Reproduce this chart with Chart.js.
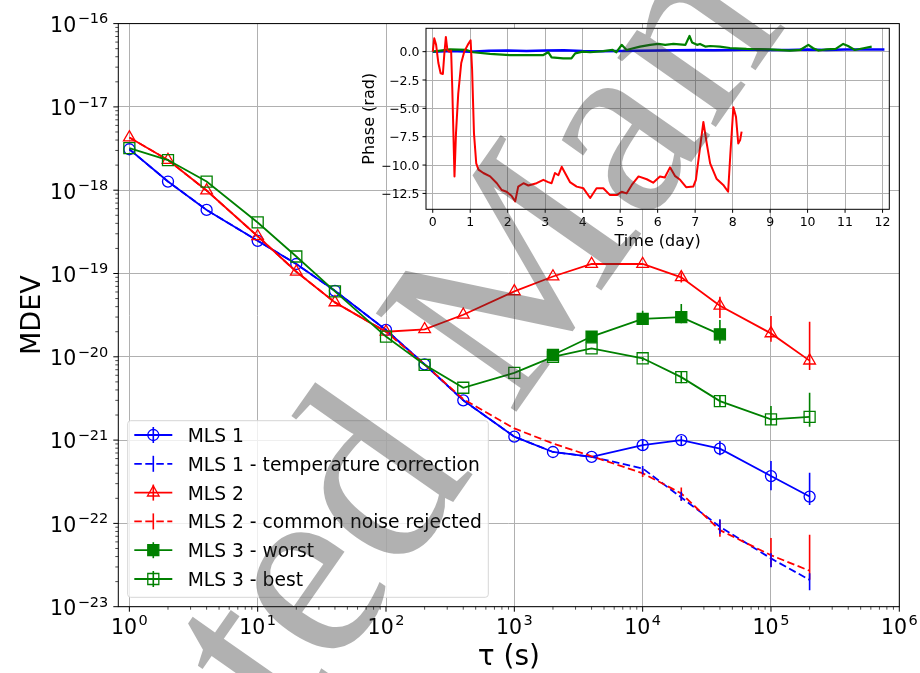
<!DOCTYPE html>
<html>
<head>
<meta charset="utf-8">
<script src="https://cdn.jsdelivr.net/npm/chart.js@4.4.1/dist/chart.umd.min.js"></script>
<style>
  body { margin: 0; background: #fff; }
  #wrap { position: relative; width: 920px; height: 673px; overflow: hidden; }
  #main { position: absolute; left: 0; top: 0; }
  #inset { position: absolute; left: 340px; top: 20px; }
  #mark { position: absolute; left: 0; top: 0; pointer-events: none; }
</style>
</head>
<body>
<div id="wrap">
  <canvas id="main" width="920" height="673"></canvas>
  <canvas id="inset" width="560" height="240"></canvas>
  <canvas id="mark" width="920" height="673"></canvas>
</div>
<script>
// Datos del gráfico principal (MDEV frente a tau)
const tau = [1, 2, 4, 10, 20, 40, 100, 200, 400, 1e3, 2e3, 4e3, 1e4, 2e4, 4e4, 1e5, 2e5];

const mls1 = [3.1e-18, 1.27e-18, 5.8e-19, 2.47e-19, 1.3e-19, 6.2e-20, 2.1e-20, 8.1e-21, 3.0e-21,
              1.1e-21, 7.2e-22, 6.3e-22, 8.7e-22, 1.0e-21, 7.9e-22, 3.7e-22, 2.1e-22];
const mls1Lo = [null, null, null, null, null, null, null, null, null, null, null, null,
                7.4e-22, 8.7e-22, 6.6e-22, 2.5e-22, 1.66e-22];
const mls1Hi = [null, null, null, null, null, null, null, null, null, null, null, null,
                1.03e-21, 1.12e-21, 9.75e-22, 5.6e-22, 4.06e-22];

const mls1Temp = [3.1e-18, 1.27e-18, 5.8e-19, 2.47e-19, 1.3e-19, 6.2e-20, 2.1e-20, 8.1e-21, 3.0e-21,
                  1.1e-21, 7.2e-22, 6.3e-22, 4.57e-22, 2.05e-22, 9.1e-23, 3.8e-23, 2.1e-23];
const mls1TempLo = [null, null, null, null, null, null, null, null, null, null, null, null,
                    3.9e-22, 1.87e-22, 7.5e-23, 2.97e-23, 1.58e-23];
const mls1TempHi = [null, null, null, null, null, null, null, null, null, null, null, null,
                    4.9e-22, 2.4e-22, 1.12e-22, 4.38e-23, 2.52e-23];

const mls2 = [4.3e-18, 2.3e-18, 9.9e-19, 2.8e-19, 1.05e-19, 4.5e-20, 2.0e-20, 2.14e-20, 3.2e-20,
              6.1e-20, 9.2e-20, 1.3e-19, 1.3e-19, 9.0e-20, 4.1e-20, 1.91e-20, 9.0e-21];
const mls2Lo = [null, null, null, null, null, null, null, null, null, null, null, null,
                null, 7.8e-20, 2.92e-20, 1.52e-20, 6.95e-21];
const mls2Hi = [null, null, null, null, null, null, null, null, null, null, null, null,
                null, 1.03e-19, 5.26e-20, 3.09e-20, 2.64e-20];

const mls2Common = [4.3e-18, 2.3e-18, 9.9e-19, 2.8e-19, 1.05e-19, 4.5e-20, 2.0e-20, 8.1e-21, 3.1e-21,
                    1.38e-21, 9.1e-22, 6.4e-22, 4.0e-22, 2.29e-22, 8.3e-23, 4.15e-23, 2.7e-23];
const mls2CommonLo = [null, null, null, null, null, null, null, null, null, null, null, null,
                      3.6e-22, 1.87e-22, 6.9e-23, 3.0e-23, 2.1e-23];
const mls2CommonHi = [null, null, null, null, null, null, null, null, null, null, null, null,
                      4.6e-22, 2.7e-22, 1.1e-22, 6.7e-23, 7.3e-23];

const mls3Worst = [null, null, null, null, null, null, null, null, null, null,
                   1.05e-20, 1.75e-20, 2.85e-20, 3.0e-20, 1.86e-20, null, null];
const mls3WorstLo = [null, null, null, null, null, null, null, null, null, null,
                     null, null, 2.41e-20, 2.52e-20, 1.43e-20, null, null];
const mls3WorstHi = [null, null, null, null, null, null, null, null, null, null,
                     null, null, 3.57e-20, 4.3e-20, 2.77e-20, null, null];

const mls3Best = [3.2e-18, 2.3e-18, 1.27e-18, 4.1e-19, 1.6e-19, 6.1e-20, 1.75e-20, 8.0e-21, 4.25e-21,
                  6.4e-21, 1.0e-20, 1.26e-20, 9.6e-21, 5.7e-21, 2.94e-21, 1.77e-21, 1.9e-21];
const mls3BestLo = [null, null, null, null, null, null, null, null, null, null, null, null,
                    8.9e-21, 4.8e-21, 2.52e-21, 1.52e-21, 1.45e-21];
const mls3BestHi = [null, null, null, null, null, null, null, null, null, null, null, null,
                    1.0e-20, 6.6e-21, 3.48e-21, 2.57e-21, 3.7e-21];

// Décadas de los ejes
const xDecades = [0, 1, 2, 3, 4, 5, 6];
const yDecades = [-23, -22, -21, -20, -19, -18, -17, -16];

// Datos del recuadro (fase frente a tiempo)
const redDay = [0, 0.04, 0.09, 0.15, 0.21, 0.27, 0.31, 0.35, 0.39, 0.44, 0.49, 0.52, 0.58, 0.62, 0.68,
                0.76, 0.84, 0.95, 1.01, 1.05, 1.1, 1.16, 1.22, 1.35, 1.53, 1.71, 1.84, 1.97, 2.1, 2.2,
                2.28, 2.42, 2.55, 2.77, 2.95, 3.08, 3.17, 3.26, 3.35, 3.44, 3.53, 3.66, 3.84, 4.02, 4.2,
                4.37, 4.55, 4.73, 4.91, 5.04, 5.17, 5.31, 5.49, 5.71, 5.88, 6.06, 6.19, 6.33, 6.46, 6.6,
                6.76, 6.95, 7.02, 7.11, 7.22, 7.31, 7.4, 7.57, 7.75, 7.88, 7.94, 8.02, 8.09, 8.15, 8.2, 8.24];
const redPhase = [0, 1.18, 0.6, -1.0, -1.9, -1.97, -0.15, 1.3, 0.15, 0, 0.1, -3.1, -11.0, -7.2, -3.7,
                  -1.0, 0, 0.7, 1.0, -1.6, -7.2, -9.85, -10.4, -10.7, -11.0, -11.6, -12.2, -12.35, -12.7, -13.2,
                  -11.9, -11.6, -11.8, -11.6, -11.3, -11.5, -11.6, -10.7, -10.9, -10.15, -10.7, -11.5, -11.9, -12.05, -12.9,
                  -12.05, -12.05, -12.65, -12.65, -12.35, -12.5, -11.75, -11.0, -11.25, -11.55, -11.0, -11.1, -10.2, -10.95, -11.3,
                  -11.95, -11.9, -11.3, -9.0, -6.2, -8.1, -9.85, -11.2, -11.75, -12.35, -9.0, -4.9, -5.75, -8.1, -7.8, -7.05];

const greenDay = [0, 0.46, 0.9, 1.08, 1.53, 2.06, 2.5, 2.95, 3.08, 3.17, 3.48, 3.7, 3.8, 4.0, 4.2, 4.55,
                  4.8, 4.9, 5.04, 5.17, 5.35, 5.53, 5.8, 6.02, 6.2, 6.42, 6.74, 6.85, 6.92, 7.05, 7.13, 7.27,
                  7.4, 7.66, 7.93, 8.37, 8.99, 9.53, 9.8, 10.02, 10.15, 10.29, 10.5, 10.75, 10.95, 11.08, 11.26,
                  11.49, 11.71];
const greenPhase = [0, 0.2, 0.15, -0.05, -0.2, -0.3, -0.3, -0.3, -0.05, -0.5, -0.6, -0.6, -0.15, 0, -0.05, 0.05,
                    0.15, -0.05, 0.6, 0.15, 0.3, 0.45, 0.6, 0.68, 0.6, 0.68, 0.6, 1.38, 0.8, 0.6, 0.68, 0.45,
                    0.5, 0.45, 0.32, 0.24, 0.2, 0.1, 0.15, 0.6, 0.3, 0.1, 0.2, 0.25, 0.68, 0.5, 0.15,
                    0.3, 0.45];

const blueDay = [0, 0.5, 1, 1.5, 2, 2.5, 3, 3.5, 4, 4.5, 5, 5.5, 6, 6.5, 7, 7.5, 8, 8.5, 9, 9.5,
                 10, 10.5, 11, 11.5, 12.05];
const bluePhase = [0, 0.05, 0, 0.08, 0.1, 0.05, 0.1, 0.12, 0.05, 0.03, 0.05, 0.08, 0.1, 0.12, 0.15, 0.12,
                   0.15, 0.18, 0.15, 0.15, 0.18, 0.15, 0.18, 0.2, 0.2];

const dayTicks = [0, 1, 2, 3, 4, 5, 6, 7, 8, 9, 10, 11, 12];
const phaseTicks = [-12.5, -10.0, -7.5, -5.0, -2.5, 0.0];

const FONT = '"DejaVu Sans", sans-serif';
Chart.defaults.font.family = FONT;

// Marcas mayores y menores en escala logarítmica
function logTicks(decades) {
  const out = [];
  decades.forEach((d, i) => {
    out.push({ value: Math.pow(10, d), major: true });
    if (i < decades.length - 1) {
      for (let m = 2; m <= 9; m++) out.push({ value: m * Math.pow(10, d), major: false });
    }
  });
  return out;
}

function points(xs, ys) {
  return xs.map((x, i) => ({ x: x, y: ys[i] }));
}

// Texto 10^n con superíndice
function drawPow(ctx, exp, x, y, align) {
  const sup = exp < 0 ? '\u2212' + (-exp) : String(exp);
  ctx.font = '20.5px ' + FONT;
  const wb = ctx.measureText('10').width;
  ctx.font = '14.5px ' + FONT;
  const ws = ctx.measureText(sup).width;
  const total = wb + 1.5 + ws;
  const x0 = align === 'center' ? x - total / 2 : x - total;
  ctx.textAlign = 'left';
  ctx.textBaseline = 'alphabetic';
  ctx.font = '20.5px ' + FONT;
  ctx.fillText('10', x0, y);
  ctx.font = '14.5px ' + FONT;
  ctx.fillText(sup, x0 + wb + 1.5, y - 8.5);
}

// Barras de error verticales
const errorBars = {
  id: 'errorBars',
  afterDatasetsDraw(chart) {
    const { ctx, chartArea: a, scales: { x, y } } = chart;
    ctx.save();
    ctx.beginPath();
    ctx.rect(a.left, a.top, a.right - a.left, a.bottom - a.top);
    ctx.clip();
    ctx.setLineDash([]);
    ctx.lineWidth = 1.6;
    chart.data.datasets.forEach(ds => {
      if (!ds.errLo) return;
      ctx.strokeStyle = ds.borderColor;
      ds.errLo.forEach((lo, i) => {
        const hi = ds.errHi[i];
        if (lo == null || hi == null) return;
        const px = x.getPixelForValue(tau[i]);
        ctx.beginPath();
        ctx.moveTo(px, y.getPixelForValue(lo));
        ctx.lineTo(px, y.getPixelForValue(hi));
        ctx.stroke();
      });
    });
    ctx.restore();
  }
};

// Ejes al estilo matplotlib: marco, marcas y etiquetas
const mainAxes = {
  id: 'mainAxes',
  afterDraw(chart) {
    const { ctx, chartArea: a, scales: { x, y } } = chart;
    ctx.save();
    ctx.strokeStyle = '#000';
    ctx.fillStyle = '#000';
    ctx.lineWidth = 1;
    ctx.strokeRect(a.left, a.top, a.right - a.left, a.bottom - a.top);
    x.ticks.forEach(t => {
      const px = x.getPixelForValue(t.value);
      if (px < a.left - 0.5 || px > a.right + 0.5) return;
      ctx.lineWidth = t.major ? 1 : 0.7;
      ctx.beginPath();
      ctx.moveTo(px, a.bottom);
      ctx.lineTo(px, a.bottom + (t.major ? 5 : 3));
      ctx.stroke();
    });
    y.ticks.forEach(t => {
      const py = y.getPixelForValue(t.value);
      ctx.lineWidth = t.major ? 1 : 0.7;
      ctx.beginPath();
      ctx.moveTo(a.left, py);
      ctx.lineTo(a.left - (t.major ? 5 : 3), py);
      ctx.stroke();
    });
    xDecades.forEach(d => drawPow(ctx, d, x.getPixelForValue(Math.pow(10, d)), a.bottom + 27, 'center'));
    yDecades.forEach(d => drawPow(ctx, d, a.left - 10, y.getPixelForValue(Math.pow(10, d)) + 8.3, 'right'));

    ctx.font = '28px ' + FONT;
    ctx.textAlign = 'center';
    ctx.textBaseline = 'alphabetic';
    ctx.fillText('\u03c4 (s)', (a.left + a.right) / 2, 665);
    ctx.font = '27px ' + FONT;
    ctx.translate(40, (a.top + a.bottom) / 2);
    ctx.rotate(-Math.PI / 2);
    ctx.fillText('MDEV', 0, 0);
    ctx.restore();
  }
};

// Leyenda con línea, marcador y barra de error
const legendItems = [
  { text: 'MLS 1', color: '#0000ff', dash: false, style: 'circle', fill: false, r: 5.5 },
  { text: 'MLS 1 - temperature correction', color: '#0000ff', dash: true, style: null, fill: false, r: 0 },
  { text: 'MLS 2', color: '#ff0000', dash: false, style: 'triangle', fill: false, r: 6.75 },
  { text: 'MLS 2 - common noise rejected', color: '#ff0000', dash: true, style: null, fill: false, r: 0 },
  { text: 'MLS 3 - worst', color: '#008000', dash: false, style: 'rect', fill: true, r: 7.8 },
  { text: 'MLS 3 - best', color: '#008000', dash: false, style: 'rect', fill: false, r: 7.8 }
];

const mainLegend = {
  id: 'mainLegend',
  afterDraw(chart) {
    const ctx = chart.ctx;
    const bx = 127.7, by = 420.7, bw = 360.6, bh = 176.6;
    ctx.save();
    ctx.beginPath();
    ctx.roundRect(bx, by, bw, bh, 3);
    ctx.fillStyle = 'rgba(255,255,255,0.8)';
    ctx.fill();
    ctx.strokeStyle = '#d6d6d6';
    ctx.lineWidth = 1;
    ctx.stroke();
    legendItems.forEach((it, i) => {
      const yy = 435 + i * 28.8;
      ctx.strokeStyle = it.color;
      ctx.lineWidth = 1.8;
      ctx.setLineDash(it.dash ? [7.5, 3.5] : []);
      ctx.beginPath();
      ctx.moveTo(134.3, yy);
      ctx.lineTo(172.3, yy);
      ctx.stroke();
      ctx.setLineDash([]);
      ctx.lineWidth = 1.6;
      ctx.beginPath();
      ctx.moveTo(153.3, yy - 8);
      ctx.lineTo(153.3, yy + 8);
      ctx.stroke();
      if (it.style) {
        ctx.fillStyle = it.fill ? it.color : 'rgba(0,0,0,0)';
        ctx.lineWidth = 1.3;
        Chart.helpers.drawPoint(ctx, { pointStyle: it.style, radius: it.r, rotation: 0, borderWidth: 1.3 }, 153.3, yy);
      }
      ctx.fillStyle = '#000';
      ctx.font = '18.7px ' + FONT;
      ctx.textAlign = 'left';
      ctx.textBaseline = 'alphabetic';
      ctx.fillText(it.text, 187.7, yy + 7);
    });
    ctx.restore();
  }
};

function series(label, values, color, opts) {
  return Object.assign({
    label: label,
    data: points(tau, values),
    borderColor: color,
    borderWidth: 1.8,
    pointBorderColor: color,
    pointBackgroundColor: 'rgba(0,0,0,0)',
    pointBorderWidth: 1.3,
    pointRadius: 5.5,
    tension: 0
  }, opts);
}

new Chart(document.getElementById('main'), {
  type: 'line',
  data: {
    datasets: [
      series('MLS 3 - best', mls3Best, '#008000', { pointStyle: 'rect', pointRadius: 7.8, errLo: mls3BestLo, errHi: mls3BestHi, order: 1 }),
      series('MLS 3 - worst', mls3Worst, '#008000', { pointStyle: 'rect', pointRadius: 7.8, pointBackgroundColor: '#008000', errLo: mls3WorstLo, errHi: mls3WorstHi, order: 2 }),
      series('MLS 2 - common noise rejected', mls2Common, '#ff0000', { pointRadius: 0, borderDash: [7.5, 3.5], errLo: mls2CommonLo, errHi: mls2CommonHi, order: 3 }),
      series('MLS 2', mls2, '#ff0000', { pointStyle: 'triangle', pointRadius: 6.75, errLo: mls2Lo, errHi: mls2Hi, order: 4 }),
      series('MLS 1 - temperature correction', mls1Temp, '#0000ff', { pointRadius: 0, borderDash: [7.5, 3.5], errLo: mls1TempLo, errHi: mls1TempHi, order: 5 }),
      series('MLS 1', mls1, '#0000ff', { pointStyle: 'circle', errLo: mls1Lo, errHi: mls1Hi, order: 6 })
    ]
  },
  options: {
    responsive: false,
    animation: false,
    layout: { padding: { top: 23.6, right: 20.7, left: 0, bottom: 0 } },
    plugins: { legend: { display: false }, tooltip: { enabled: false } },
    scales: {
      x: {
        type: 'logarithmic',
        min: 0.82,
        max: 1e6,
        afterBuildTicks: s => { s.ticks = logTicks(xDecades); },
        afterFit: s => { s.height = 66.3; },
        ticks: { display: false },
        grid: { color: c => (c.tick && c.tick.major) ? '#b0b0b0' : 'rgba(0,0,0,0)', lineWidth: 1, drawTicks: false },
        border: { display: false }
      },
      y: {
        type: 'logarithmic',
        min: 1e-23,
        max: 1e-16,
        afterBuildTicks: s => { s.ticks = logTicks(yDecades); },
        afterFit: s => { s.width = 118.3; },
        ticks: { display: false },
        grid: { color: c => (c.tick && c.tick.major) ? '#b0b0b0' : 'rgba(0,0,0,0)', lineWidth: 1, drawTicks: false },
        border: { display: false }
      }
    }
  },
  plugins: [errorBars, mainAxes, mainLegend]
});

// Recuadro: fondo blanco del área y ejes
const insetBg = {
  id: 'insetBg',
  beforeDraw(chart) {
    const { ctx, chartArea: a } = chart;
    ctx.save();
    ctx.fillStyle = '#fff';
    ctx.fillRect(a.left, a.top, a.right - a.left, a.bottom - a.top);
    ctx.restore();
  }
};

const insetAxes = {
  id: 'insetAxes',
  afterDraw(chart) {
    const { ctx, chartArea: a, scales: { x, y } } = chart;
    ctx.save();
    ctx.strokeStyle = '#000';
    ctx.fillStyle = '#000';
    ctx.lineWidth = 1;
    ctx.strokeRect(a.left, a.top, a.right - a.left, a.bottom - a.top);
    ctx.font = '12.5px ' + FONT;
    ctx.textBaseline = 'alphabetic';
    dayTicks.forEach(d => {
      const px = x.getPixelForValue(d);
      ctx.beginPath();
      ctx.moveTo(px, a.bottom);
      ctx.lineTo(px, a.bottom + 3.5);
      ctx.stroke();
      ctx.textAlign = 'center';
      ctx.fillText(String(d), px, a.bottom + 16.2);
    });
    phaseTicks.forEach(p => {
      const py = y.getPixelForValue(p);
      ctx.beginPath();
      ctx.moveTo(a.left, py);
      ctx.lineTo(a.left - 3.5, py);
      ctx.stroke();
      ctx.textAlign = 'right';
      const txt = (p < 0 ? '\u2212' : '') + Math.abs(p).toFixed(1);
      ctx.fillText(txt, a.left - 6.5, py + 4.5);
    });
    ctx.font = '16px ' + FONT;
    ctx.textAlign = 'center';
    ctx.fillText('Time (day)', (a.left + a.right) / 2, a.bottom + 37);
    ctx.translate(a.left - 52, (a.top + a.bottom) / 2);
    ctx.rotate(-Math.PI / 2);
    ctx.fillText('Phase (rad)', 0, 0);
    ctx.restore();
  }
};

new Chart(document.getElementById('inset'), {
  type: 'line',
  data: {
    datasets: [
      { data: points(redDay, redPhase), borderColor: '#ff0000', borderWidth: 2, pointRadius: 0, tension: 0, borderJoinStyle: 'round' },
      { data: points(greenDay, greenPhase), borderColor: '#008000', borderWidth: 2.2, pointRadius: 0, tension: 0, borderJoinStyle: 'round' },
      { data: points(blueDay, bluePhase), borderColor: '#0000ff', borderWidth: 2.5, pointRadius: 0, tension: 0, borderJoinStyle: 'round' }
    ]
  },
  options: {
    responsive: false,
    animation: false,
    layout: { padding: { top: 8.3, right: 10.7, left: 0, bottom: 0 } },
    plugins: { legend: { display: false }, tooltip: { enabled: false } },
    scales: {
      x: {
        type: 'linear',
        min: -0.18,
        max: 12.18,
        afterBuildTicks: s => { s.ticks = dayTicks.map(v => ({ value: v })); },
        afterFit: s => { s.height = 50.7; },
        ticks: { display: false },
        grid: { color: '#b0b0b0', lineWidth: 1, drawTicks: false },
        border: { display: false }
      },
      y: {
        type: 'linear',
        min: -13.9,
        max: 2.06,
        afterBuildTicks: s => { s.ticks = phaseTicks.map(v => ({ value: v })); },
        afterFit: s => { s.width = 86; },
        ticks: { display: false },
        grid: { color: '#b0b0b0', lineWidth: 1, drawTicks: false },
        border: { display: false }
      }
    }
  },
  plugins: [insetBg, insetAxes]
});

// Marca de agua "Accepted Manuscript"
(function drawMark() {
  const c = document.getElementById('mark');
  const ctx = c.getContext('2d');
  ctx.save();
  ctx.translate(512, 418);
  ctx.rotate(-55 * Math.PI / 180);
  ctx.font = '262px "Liberation Serif", serif';
  ctx.fillStyle = 'rgba(50,50,50,0.38)';
  const w = ctx.measureText('Accepted ').width;
  ctx.fillText('Accepted Manuscript', -w, 0);
  ctx.restore();
})();
</script>
</body>
</html>
